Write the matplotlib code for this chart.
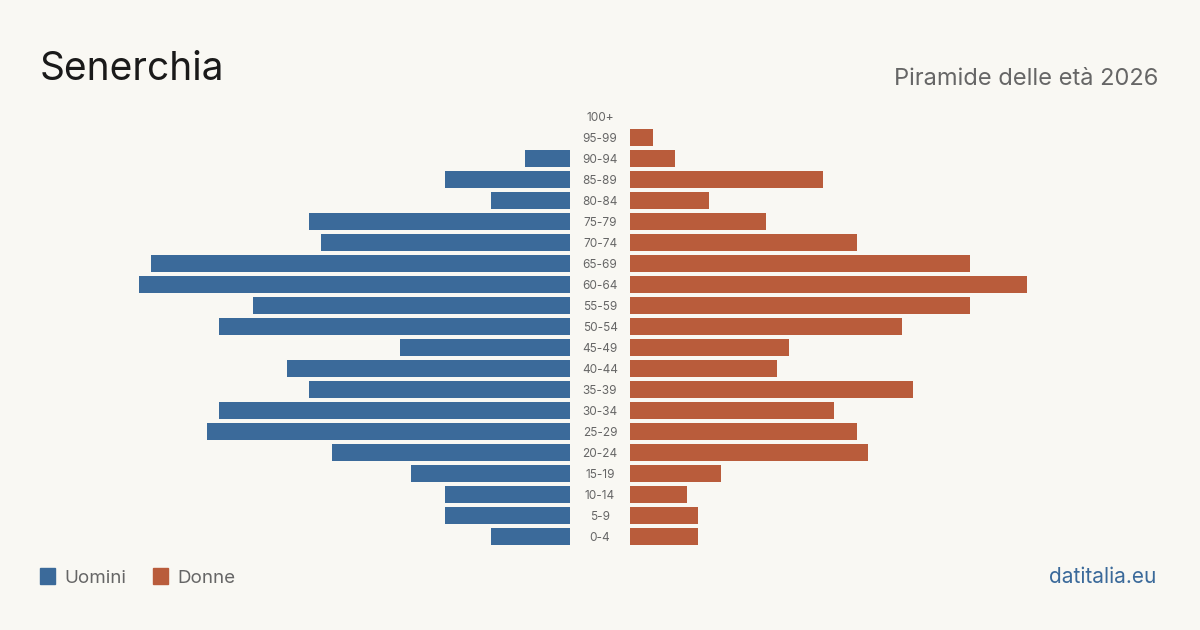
import matplotlib.pyplot as plt
from matplotlib.patches import Rectangle

# age groups, bottom to top
age_groups = ["0-4", "5-9", "10-14", "15-19", "20-24", "25-29", "30-34", "35-39",
              "40-44", "45-49", "50-54", "55-59", "60-64", "65-69", "70-74",
              "75-79", "80-84", "85-89", "90-94", "95-99", "100+"]
men = [7, 11, 11, 14, 21, 32, 31, 23, 25, 15, 31, 28, 38, 37, 22, 23, 7, 11, 4, 0, 0]
women = [6, 6, 5, 8, 21, 20, 18, 25, 13, 14, 24, 30, 35, 30, 20, 12, 7, 17, 4, 2, 0]

bg = "#f9f8f3"
blue = "#3b6a9a"
orange = "#b95c3b"
grey = "#666666"

plt.rcParams['font.family'] = ['Inter', 'DejaVu Sans']

W, H = 1200, 630
fig = plt.figure(figsize=(12, 6.3), dpi=100)
fig.patch.set_facecolor(bg)

# pixel layout helpers
row = 21
top_px = 116 - row / 2
bot_px = 536 + row / 2
unit = 11.33
span = 40
ax_w = span * unit

yb = (H - bot_px) / H
yh = (bot_px - top_px) / H

ax_l = fig.add_axes([(570 - ax_w) / W, yb, ax_w / W, yh])
ax_r = fig.add_axes([630 / W, yb, ax_w / W, yh])

ypos = list(range(len(age_groups)))
ax_l.barh(ypos, men, height=17 / row, color=blue)
ax_r.barh(ypos, women, height=17 / row, color=orange)

ax_l.set_xlim(span, 0)
ax_r.set_xlim(0, span)
for ax in (ax_l, ax_r):
    ax.set_ylim(-0.5, len(age_groups) - 0.5)
    ax.axis('off')

# age labels in the middle
for i, lab in enumerate(age_groups):
    fig.text(600 / W, (H - (538 - row * i)) / H, lab, ha='center', va='center',
             fontsize=8.5, color=grey)

fig.text(40 / W, (H - 80) / H, "Senerchia", fontsize=28, color="#1a1a1a",
         ha='left', va='baseline')
fig.text(1158 / W, (H - 85) / H, "Piramide delle età 2026", fontsize=17,
         color=grey, ha='right', va='baseline')

# legend
fig.patches.append(Rectangle((40 / W, (H - 584) / H), 15 / W, 16 / H,
                             transform=fig.transFigure, color=blue))
fig.text(64 / W, (H - 583) / H, "Uomini", fontsize=13.5, color=grey, va='baseline')
fig.patches.append(Rectangle((153 / W, (H - 584) / H), 15 / W, 16 / H,
                             transform=fig.transFigure, color=orange))
fig.text(177 / W, (H - 583) / H, "Donne", fontsize=13.5, color=grey, va='baseline')

fig.text(1156 / W, (H - 583) / H, "datitalia.eu", fontsize=15, color=blue,
         ha='right', va='baseline')

fig.savefig("out.png", dpi=100, facecolor=bg)
